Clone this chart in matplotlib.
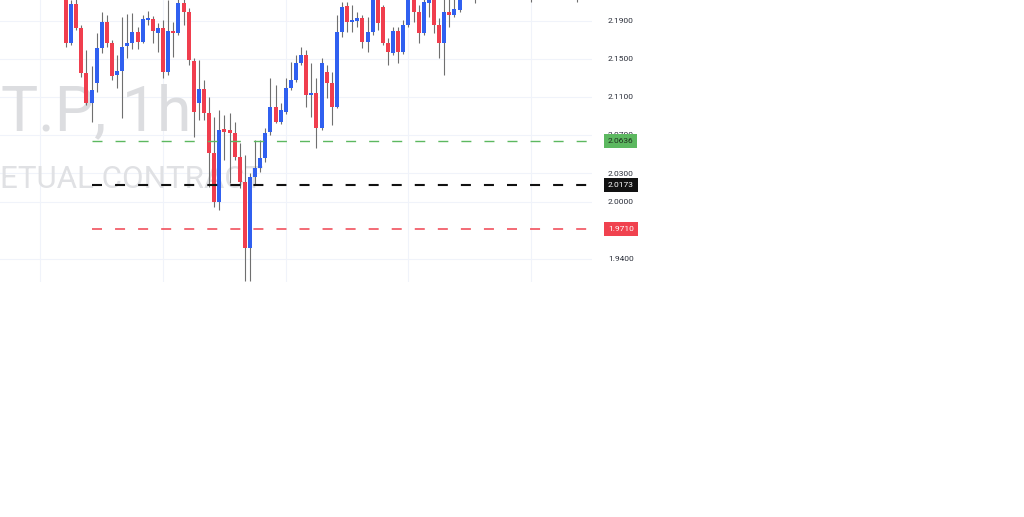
import numpy as np
import matplotlib.pyplot as plt

plt.rcParams['lines.scale_dashes'] = False

# hourly candles (price values)
bar_idx = list(range(78)) + [80, 91, 100]
opens = [2.2170, 2.1666, 2.2075, 2.1823, 2.1351, 2.1036, 2.1246, 2.1613, 2.1886, 2.1666,
         2.1330, 2.1372, 2.1634, 2.1666, 2.1781, 2.1676, 2.1907, 2.1917, 2.1771, 2.1823,
         2.1361, 2.1792, 2.1771, 2.2086, 2.1991, 2.1477, 2.1036, 2.1182, 2.0931, 2.0510,
         1.9996, 2.0763, 2.0752, 2.0720, 2.0469, 2.0206, 1.9513, 2.0259, 2.0353, 2.0458,
         2.0731, 2.0994, 2.0836, 2.0941, 2.1193, 2.1277, 2.1456, 2.1540, 2.1120, 2.1141,
         2.0773, 2.1361, 2.1246, 2.0994, 2.1781, 2.2054, 2.1886, 2.1897, 2.1928, 2.1676,
         2.1781, 2.2117, 2.2044, 2.1666, 2.1561, 2.1792, 2.1571, 2.1855, 2.2117, 2.1991,
         2.1771, 2.2086, 2.2117, 2.1855, 2.1666, 2.1991, 2.1960, 2.2012,
         2.2230, 2.2220, 2.2240]
closes = [2.1666, 2.2075, 2.1823, 2.1351, 2.1036, 2.1172, 2.1613, 2.1886, 2.1666, 2.1319,
          2.1372, 2.1624, 2.1666, 2.1781, 2.1676, 2.1917, 2.1928, 2.1792, 2.1823, 2.1361,
          2.1792, 2.1771, 2.2086, 2.1991, 2.1487, 2.0941, 2.1182, 2.0931, 2.0510, 1.9996,
          2.0752, 2.0731, 2.0720, 2.0469, 2.0206, 1.9513, 2.0259, 2.0353, 2.0458, 2.0720,
          2.0994, 2.0836, 2.0962, 2.1193, 2.1277, 2.1456, 2.1540, 2.1120, 2.1141, 2.0773,
          2.1456, 2.1246, 2.0994, 2.1781, 2.2044, 2.1886, 2.1907, 2.1928, 2.1676, 2.1781,
          2.2117, 2.1876, 2.1666, 2.1571, 2.1792, 2.1571, 2.1855, 2.2117, 2.1991, 2.1771,
          2.2096, 2.2117, 2.1855, 2.1666, 2.1991, 2.1960, 2.2023, 2.2138,
          2.2260, 2.2250, 2.2270]
highs = [2.2222, 2.2117, 2.2138, 2.1855, 2.1592, 2.1424, 2.1771, 2.1991, 2.1960, 2.1697,
         2.1540, 2.1939, 2.1970, 2.1981, 2.1834, 2.1960, 2.2002, 2.1949, 2.1876, 2.1907,
         2.2117, 2.1886, 2.2138, 2.2149, 2.2033, 2.1508, 2.1487, 2.1277, 2.1099, 2.0889,
         2.0962, 2.0910, 2.0931, 2.0836, 2.0615, 2.0490, 2.0301, 2.0647, 2.0647, 2.0773,
         2.1298, 2.1225, 2.1036, 2.1298, 2.1466, 2.1540, 2.1624, 2.1592, 2.1456, 2.1298,
         2.1508, 2.1435, 2.1361, 2.1960, 2.2096, 2.2096, 2.2065, 2.1991, 2.1960, 2.1939,
         2.2149, 2.2149, 2.2065, 2.1718, 2.1834, 2.1834, 2.1907, 2.2159, 2.2159, 2.2065,
         2.2149, 2.2159, 2.2159, 2.1928, 2.2138, 2.2138, 2.2138, 2.2170,
         2.2300, 2.2290, 2.2310]
lows = [2.1624, 2.1645, 2.1802, 2.1309, 2.1015, 2.0836, 2.1151, 2.1561, 2.1624, 2.1277,
        2.1193, 2.0878, 2.1508, 2.1603, 2.1603, 2.1666, 2.1855, 2.1666, 2.1571, 2.1298,
        2.1330, 2.1519, 2.1750, 2.1855, 2.1435, 2.0679, 2.0857, 2.0857, 2.0153, 1.9944,
        1.9912, 2.0437, 2.0196, 2.0437, 2.0143, 1.9167, 1.9167, 2.0175, 2.0311, 2.0416,
        2.0700, 2.0825, 2.0815, 2.0920, 2.1172, 2.1256, 2.1435, 2.0994, 2.0889, 2.0563,
        2.0752, 2.1088, 2.0805, 2.0983, 2.1729, 2.1781, 2.1781, 2.1834, 2.1613, 2.1571,
        2.1750, 2.1802, 2.1645, 2.1435, 2.1540, 2.1456, 2.1550, 2.1834, 2.1886, 2.1666,
        2.1750, 2.1939, 2.1771, 2.1508, 2.1330, 2.1834, 2.1939, 2.1991,
        2.2086, 2.2091, 2.2101]

price_ticks = [2.19, 2.15, 2.11, 2.07, 2.03, 2.00, 1.94]
grid_x = [-5, 19, 43, 67, 91]

# horizontal levels (take profit / entry / stop)
levels = [2.0636, 2.0173, 1.9710]
level_colors = ['#5cb860', '#111111', '#f0424f']
level_text_colors = ['#1f2d1f', 'white', 'white']
level_lw = [1.0, 1.5, 1.1]
line_start = 5

x_range = (-12.9, 102.9)
y_range = (1.9156, 2.2117)

up_color = '#3060f0'
down_color = '#f03e4e'
wick_color = '#6f6f6f'

fig = plt.figure(figsize=(10.24, 5.17), dpi=100)
ax = fig.add_axes([0, 1 - 282 / 517, 592 / 1024, 282 / 517])
ax.set_xlim(*x_range)
ax.set_ylim(*y_range)

# grid
for gx in grid_x:
    ax.axvline(gx, color='#f0f3fa', lw=0.8, zorder=0)
for gy in price_ticks:
    ax.axhline(gy, color='#f0f3fa', lw=0.8, zorder=0)

# watermark
ax.text(0.002, 0.539, 'T.P, 1h', transform=ax.transAxes, fontsize=45,
        family='Roboto', color='#dcdde0', va='baseline', ha='left', zorder=0.5)
ax.text(0.0, 0.333, 'ETUAL CONTRACT', transform=ax.transAxes, fontsize=22.5,
        family='Roboto', color='#e0e1e4', va='baseline', ha='left', zorder=0.5)

# candles
o = np.array(opens)
c = np.array(closes)
x = np.array(bar_idx)
colors = [up_color if cc >= oo else down_color for oo, cc in zip(o, c)]
ax.vlines(x, lows, highs, color=wick_color, lw=0.8, zorder=2)
ax.bar(x, np.maximum(np.abs(c - o), 0.0009), bottom=np.minimum(o, c),
       width=0.78, color=colors, linewidth=0, zorder=3)

# dashed levels and price badges
for lvl, col, tcol, lw in zip(levels, level_colors, level_text_colors, level_lw):
    ax.hlines(lvl, line_start, x_range[1], colors=col, lw=lw,
              linestyles=(0, (7.2, 9.4)), zorder=4)
    ax.text(1.027, lvl, f'{lvl:.4f}', transform=ax.get_yaxis_transform(),
            fontsize=6, family='Roboto', color=tcol, va='center', ha='left',
            zorder=6, clip_on=False,
            bbox=dict(boxstyle='square,pad=0.45', fc=col, ec='none'))

ax.yaxis.tick_right()
ax.set_yticks(price_ticks)
ax.set_yticklabels([f'{t:.4f}' for t in price_ticks], fontsize=6,
                   family='Roboto', color='#2a2e39')
ax.tick_params(axis='y', length=0, pad=11.5)
ax.set_xticks([])
for s in ax.spines.values():
    s.set_visible(False)

fig.savefig('out.png', dpi=100, facecolor='white')
